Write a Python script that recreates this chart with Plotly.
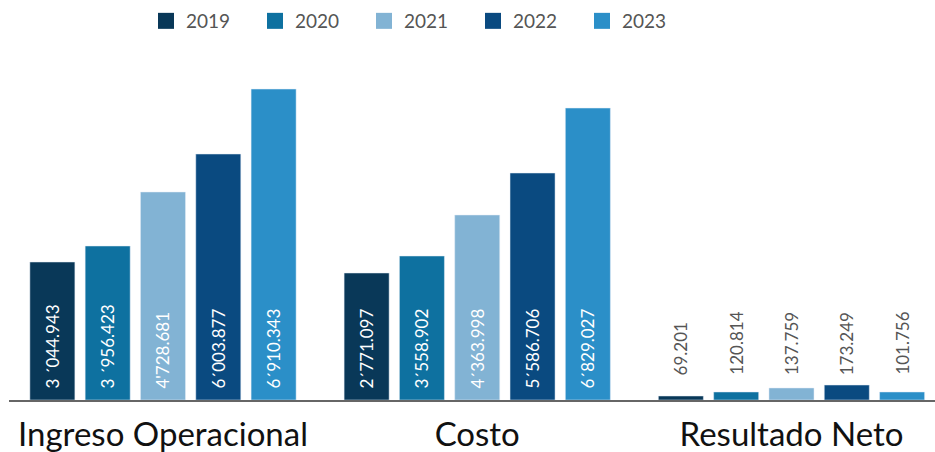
import plotly.graph_objects as go

categorias = ["Ingreso Operacional", "Costo", "Resultado Neto"]
anios = ["2019", "2020", "2021", "2022", "2023"]
colores = ["#093858", "#0E71A0", "#82B3D4", "#0A4A80", "#2B8FC8"]

# bar heights as drawn, per year: [Ingreso, Costo, Resultado]
valores = {
    "2019": [3066, 2822, 89],
    "2020": [3422, 3200, 178],
    "2021": [4622, 4111, 267],
    "2022": [5466, 5044, 333],
    "2023": [6910, 6488, 178],
}
# printed labels
etiquetas = {
    "2019": ["3 \u00b4044.943", "2\u00b4771.097", "69.201"],
    "2020": ["3 \u00b4956.423", "3\u00b4558.902", "120.814"],
    "2021": ["4'728.681", "4\u00b4363.998", "137.759"],
    "2022": ["6\u00b4003.877", "5\u00b4586.706", "173.249"],
    "2023": ["6\u00b4910.343", "6\u00b4829.027", "101.756"],
}
y_etiqueta_neto = 511

FONT = "Lato, 'Noto Sans', sans-serif"
bargap = 0.12
n = len(anios)
PAD = "\u2002"  # small visual padding from the baseline

fig = go.Figure()
annotations = []
for i, a in enumerate(anios):
    txt = [PAD + etiquetas[a][0], PAD + etiquetas[a][1], ""]
    fig.add_trace(go.Bar(
        name=a, x=categorias, y=valores[a], marker_color=colores[i],
        text=txt, textposition="inside", insidetextanchor="start",
        textangle=-90, textfont=dict(color="white", size=17, family=FONT),
        constraintext="none", showlegend=False, hoverinfo="skip",
    ))
    # legend entry with a larger square swatch
    fig.add_trace(go.Scatter(
        name=a, x=[None], y=[None], mode="markers",
        marker=dict(symbol="square", size=16, color=colores[i]),
    ))
    slot = (1 - bargap) / n
    annotations.append(dict(
        x=2 + (i - (n - 1) / 2) * slot, y=y_etiqueta_neto, xref="x", yref="y",
        text=etiquetas[a][2], textangle=-90, showarrow=False,
        xanchor="center", yanchor="bottom",
        font=dict(size=17, color="#555555", family=FONT),
    ))

fig.update_layout(
    width=935, height=452,
    margin=dict(l=9, r=0, t=40, b=52),
    barmode="group", bargap=bargap, bargroupgap=0.186,
    plot_bgcolor="white", paper_bgcolor="white",
    font=dict(family=FONT),
    annotations=annotations,
    legend=dict(orientation="h", xref="container", x=146 / 935, xanchor="left",
                yref="container", y=1 - 21 / 452, yanchor="middle",
                font=dict(size=19, color="#555555", family=FONT),
                entrywidth=64),
)
fig.update_xaxes(range=[-0.490, 2.4567], showline=True, linecolor="#666666", linewidth=2,
                 tickfont=dict(size=33, color="#111111", family=FONT), ticks="",
                 ticklabelstandoff=4, showgrid=False)
fig.update_yaxes(range=[0, 8000], visible=False, showgrid=False)

fig.write_html("out.html", config={"displayModeBar": False},
               post_script="document.body.style.margin='0';")
